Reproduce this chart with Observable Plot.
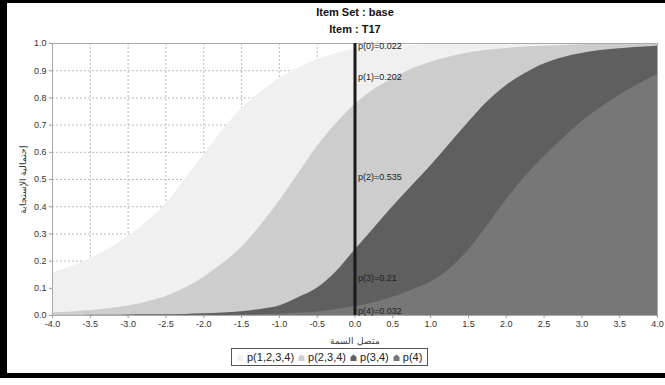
<!DOCTYPE html>
<html>
<head>
<meta charset="utf-8">
<script src="https://cdn.jsdelivr.net/npm/d3@7"></script>
<script src="https://cdn.jsdelivr.net/npm/@observablehq/plot@0.6"></script>
<style>
  html, body { margin: 0; padding: 0; background: #fff; }
  #page { position: relative; width: 665px; height: 385px; overflow: hidden; font-family: "Liberation Sans", Arial, sans-serif; }
  #frame { position: absolute; left: 0; top: 0; width: 680px; height: 370px; border-left: 7px solid #000; border-top: 3px solid #000; border-bottom: 5px solid #000; box-sizing: content-box; }
  #titles { position: absolute; left: 52px; width: 606px; top: 4px; text-align: center; font-weight: bold; font-size: 11px; color: #111; line-height: 17px; }
  #chart { position: absolute; left: 0; top: 36px; }
  #legend { position: absolute; top: 348px; left: 231px; border: 1px solid #555; padding: 2px 5px; font-size: 11px; color: #222; white-space: nowrap; background: #fff; display: flex; align-items: center; gap: 4px; }
  #legend span.item { display: inline-flex; align-items: center; gap: 3px; }
</style>
</head>
<body>
<div id="page">
  <div id="frame"></div>
  <div id="titles"><div id="t1"></div><div id="t2"></div></div>
  <div id="chart"></div>
  <div id="legend"></div>
</div>
<script>
// ---- data ----
const titleLines = ["Item Set : base", "Item : T17"];
const xTitle = "متصل السمة";
const yTitle = "إحتمالية الإستجابة";
const theta = [-4, -3.75, -3.5, -3.25, -3, -2.75, -2.5, -2.25, -2, -1.75, -1.5, -1.25, -1, -0.75, -0.5, -0.25,
               0, 0.25, 0.5, 0.75, 1, 1.25, 1.5, 1.75, 2, 2.25, 2.5, 2.75, 3, 3.25, 3.5, 3.75, 4];
// cumulative category curves
const p1234 = [0.155, 0.18, 0.21, 0.245, 0.29, 0.345, 0.41, 0.50, 0.59, 0.68, 0.76, 0.82, 0.87, 0.91, 0.94, 0.963,
               0.978, 0.986, 0.991, 0.994, 0.996, 0.997, 0.998, 0.998, 0.999, 0.999, 0.999, 1.0, 1.0, 1.0, 1.0, 1.0, 1.0];
const p234  = [0.01, 0.013, 0.018, 0.025, 0.035, 0.05, 0.07, 0.10, 0.14, 0.19, 0.25, 0.33, 0.42, 0.52, 0.62, 0.705,
               0.776, 0.83, 0.87, 0.905, 0.93, 0.95, 0.965, 0.975, 0.982, 0.987, 0.99, 0.993, 0.995, 0.996, 0.997, 0.998, 0.998];
const p34   = [0.0, 0.0, 0.001, 0.001, 0.002, 0.003, 0.003, 0.004, 0.006, 0.009, 0.014, 0.022, 0.035, 0.065, 0.10, 0.16,
               0.241, 0.32, 0.40, 0.475, 0.55, 0.63, 0.71, 0.785, 0.845, 0.89, 0.925, 0.948, 0.963, 0.974, 0.981, 0.986, 0.99];
const p4    = [0.0, 0.0, 0.0, 0.0, 0.0, 0.0, 0.0, 0.001, 0.001, 0.001, 0.002, 0.003, 0.005, 0.008, 0.013, 0.021,
               0.032, 0.047, 0.067, 0.093, 0.122, 0.17, 0.24, 0.33, 0.425, 0.51, 0.585, 0.65, 0.712, 0.765, 0.81, 0.85, 0.885];
// category probabilities at theta = 0
const catNames = ["p(0)", "p(1)", "p(2)", "p(3)", "p(4)"];
const catProbs = [0.022, 0.202, 0.535, 0.21, 0.032];
const markerTheta = 0;
const seriesNames = ["p(1,2,3,4)", "p(2,3,4)", "p(3,4)", "p(4)"];
const seriesColors = ["#f0f0f0", "#cdcdcd", "#5f5f5f", "#777777"];
const xTicks = [-4, -3.5, -3, -2.5, -2, -1.5, -1, -0.5, 0, 0.5, 1, 1.5, 2, 2.5, 3, 3.5, 4];
const yTicks = [0, 0.1, 0.2, 0.3, 0.4, 0.5, 0.6, 0.7, 0.8, 0.9, 1.0];

// ---- build ----
document.getElementById("t1").textContent = titleLines[0];
document.getElementById("t2").textContent = titleLines[1];

const seriesValues = [p1234, p234, p34, p4];
const rows = theta.map((t, i) => ({t, v: seriesValues.map(s => s[i])}));

// label positions: middle of each category band at theta = 0
let upper = 1;
const bandLabels = catProbs.map((p, i) => {
  const lower = upper - p;
  const mid = (upper + lower) / 2;
  upper = lower;
  return {y: mid, text: `${catNames[i]}=${p}`};
});

const fmt = d => d.toFixed(1);

const plot = Plot.plot({
  width: 665,
  height: 311,
  marginTop: 7,
  marginLeft: 52,
  marginRight: 8,
  marginBottom: 32,
  style: {fontFamily: "Liberation Sans, Arial, sans-serif", fontSize: "9px", color: "#333", background: "transparent"},
  x: {domain: [-4, 4]},
  y: {domain: [0, 1]},
  marks: [
    Plot.gridX(xTicks, {stroke: "#bbb", strokeOpacity: 1, strokeDasharray: "2,2"}),
    Plot.gridY(yTicks, {stroke: "#bbb", strokeOpacity: 1, strokeDasharray: "2,2"}),
    ...seriesValues.map((s, k) => Plot.areaY(rows, {x: "t", y: d => d.v[k], fill: seriesColors[k], curve: "catmull-rom"})),
    Plot.frame({stroke: "#aaa"}),
    Plot.axisX(xTicks, {tickFormat: fmt, tickSize: 3, tickPadding: 2, stroke: "#999", color: "#333", label: xTitle, labelAnchor: "center", labelArrow: "none", labelOffset: 28, fontSize: 9}),
    Plot.axisY(yTicks, {tickFormat: fmt, tickSize: 3, tickPadding: 3, stroke: "#999", color: "#333", label: yTitle, labelAnchor: "center", labelArrow: "none", labelOffset: 33, fontSize: 9}),
    Plot.ruleX([markerTheta], {y1: 0, y2: 1, stroke: "#1a1a1a", strokeWidth: 3}),
    Plot.text(bandLabels, {x: markerTheta, y: "y", text: "text", textAnchor: "start", dx: 3, fontSize: 9, fill: "#222"})
  ]
});
document.getElementById("chart").appendChild(plot);

const legend = document.getElementById("legend");
seriesNames.forEach((name, k) => {
  const item = document.createElement("span");
  item.className = "item";
  item.innerHTML = `<svg width="7" height="7"><polygon points="0.5,7 0.5,3 3.5,0.5 6.5,3 6.5,7" fill="${seriesColors[k]}"/></svg><span>${name}</span>`;
  legend.appendChild(item);
});
</script>
</body>
</html>
